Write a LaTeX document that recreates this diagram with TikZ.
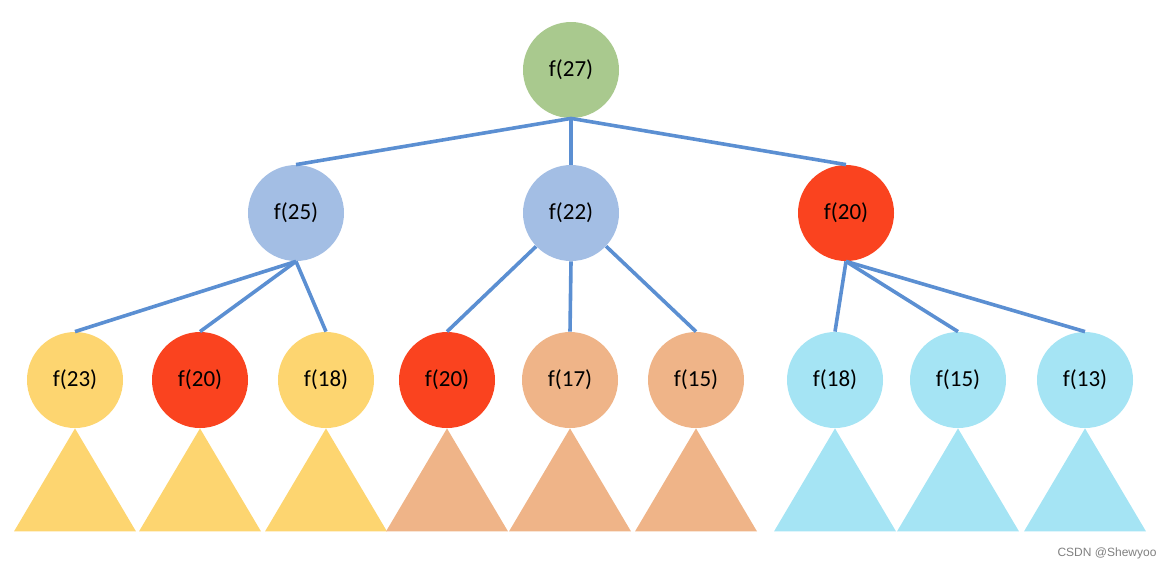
\documentclass[tikz,border=0pt]{standalone}
\usepackage{fontspec}
\setmainfont{Carlito}
\newfontfamily\markfont{Liberation Sans}
\usetikzlibrary{positioning}

\definecolor{rootgreen}{RGB}{169,201,142}
\definecolor{midblue}{RGB}{163,190,228}
\definecolor{hotred}{RGB}{250,67,31}
\definecolor{leafyellow}{RGB}{253,213,112}
\definecolor{leafpeach}{RGB}{239,180,136}
\definecolor{leafcyan}{RGB}{165,228,244}
\definecolor{linkblue}{RGB}{91,143,210}

\begin{document}
\begin{tikzpicture}[x=0.5pt,y=-0.5pt,every node/.style={circle,minimum size=48pt,inner sep=0pt,font=\fontsize{11.5}{13}\selectfont},edge/.style={draw=linkblue,line width=1.8pt}]
\useasboundingbox (0,0) rectangle (1171,570);

\node[fill=rootgreen] (r) at (571,70) {f(27)};

\node[fill=midblue] (a) at (296,213) {f(25)};
\node[fill=midblue] (b) at (571,213) {f(22)};
\node[fill=hotred] (c) at (846,213) {f(20)};

\node[fill=leafyellow] (a1) at (75,380) {f(23)};
\node[fill=hotred] (a2) at (200,380) {f(20)};
\node[fill=leafyellow] (a3) at (326,380) {f(18)};
\node[fill=hotred] (b1) at (447,380) {f(20)};
\node[fill=leafpeach] (b2) at (570,380) {f(17)};
\node[fill=leafpeach] (b3) at (696,380) {f(15)};
\node[fill=leafcyan] (c1) at (835,380) {f(18)};
\node[fill=leafcyan] (c2) at (958,380) {f(15)};
\node[fill=leafcyan] (c3) at (1085,380) {f(13)};

% subtrees
\foreach \n/\col in {a1/leafyellow,a2/leafyellow,a3/leafyellow,b1/leafpeach,b2/leafpeach,b3/leafpeach,c1/leafcyan,c2/leafcyan,c3/leafcyan}
  \fill[\col] (\n.south) -- ++(-61,103) -- ++(122,0) -- cycle;

\foreach \p/\c in {r/a,r/b,r/c,a/a1,a/a2,a/a3,b/b2,c/c1,c/c2,c/c3}
  \draw[edge] (\p.south) -- (\c.north);
\draw[edge] (b) -- (b1.north);
\draw[edge] (b) -- (b3.north);

\node[rectangle,minimum size=0pt,text=gray,font=\markfont\fontsize{6}{7}\selectfont] (mark) at (1107,553) {CSDN @Shewyoo};
\end{tikzpicture}
\end{document}
